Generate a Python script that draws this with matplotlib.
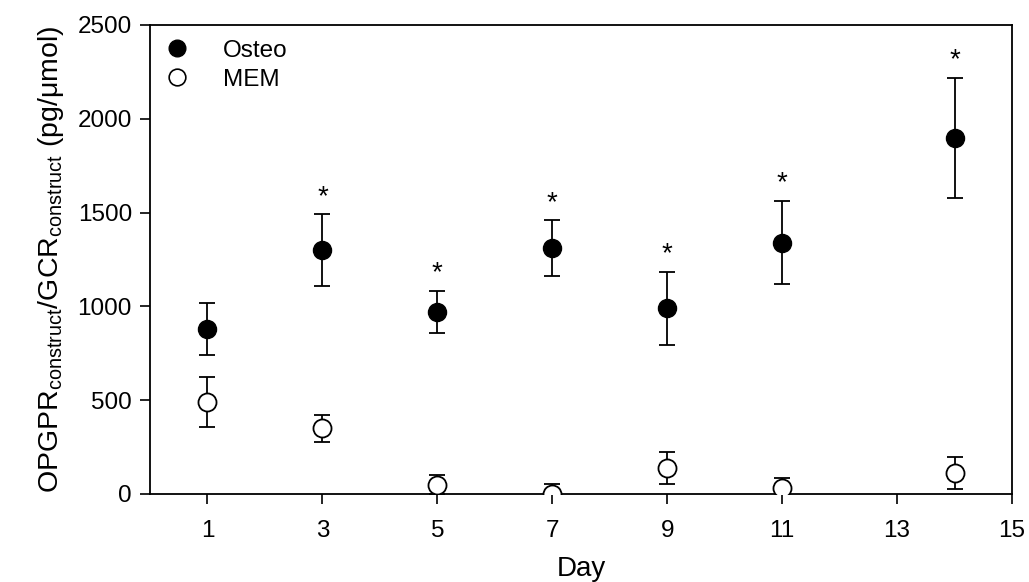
import numpy as np
import matplotlib
matplotlib.use('Agg')
import matplotlib.pyplot as plt
from matplotlib.lines import Line2D

plt.rcParams['font.family'] = ['Liberation Sans', 'DejaVu Sans']

# OPG/GCR per construct, mean and SD
days = [1, 3, 5, 7, 9, 11, 14]
osteo = [880, 1300, 970, 1310, 990, 1340, 1900]
osteo_err = [138, 190, 110, 148, 195, 222, 320]
mem = [490, 350, 50, 0, 140, 30, 110]
mem_err = [135, 72, 52, 55, 85, 55, 85]
signif = [False, True, True, True, True, True, True]

fig = plt.figure(figsize=(10.29, 5.82), dpi=100)
ax = fig.add_axes([150/1029, 1-494/582, (1012-150)/1029, (494-25)/582])

ax.errorbar(days, osteo, yerr=osteo_err, fmt='o', color='k', mfc='k', mec='k',
            ms=13, elinewidth=1.3, capsize=6, capthick=1.3, zorder=3)
ax.errorbar(days, mem, yerr=mem_err, fmt='o', color='k', mfc='white', mec='k',
            mew=1.3, ms=13, elinewidth=1.3, capsize=6, capthick=1.3, zorder=3)

# significance stars above the Osteo bars
for d, v, e, s in zip(days, osteo, osteo_err, signif):
    if s:
        ax.text(d, v + e + 25, '*', ha='center', va='bottom', fontsize=20)

ax.set_xlim(0, 15)
ax.set_ylim(0, 2500)
ax.set_xticks([1, 3, 5, 7, 9, 11, 13, 15])
ax.set_yticks([0, 500, 1000, 1500, 2000, 2500])
ax.tick_params(axis='both', which='both', direction='out', length=7, width=1.2,
               labelsize=17.5, top=False, right=False, pad=6)
ax.tick_params(axis='x', pad=12)
for sp in ax.spines.values():
    sp.set_linewidth(1.3)

ax.set_xlabel('Day', fontsize=20, labelpad=10)
ax.set_ylabel(r'OPGPR$_{\mathregular{construct}}$/GCR$_{\mathregular{construct}}$ (pg/$\mathregular{\mu}$mol)',
              fontsize=20.5, labelpad=8)

handles = [Line2D([], [], ls='none', marker='o', mfc='k', mec='k', ms=12),
           Line2D([], [], ls='none', marker='o', mfc='white', mec='k', mew=1.2, ms=12)]
ax.legend(handles, ['Osteo', 'MEM'], loc='upper left', frameon=False, fontsize=17.5,
          handlelength=1.0, handletextpad=1.4, borderaxespad=0.3, labelspacing=0.3,
          borderpad=0.3)

fig.savefig('out.png', dpi=100)
